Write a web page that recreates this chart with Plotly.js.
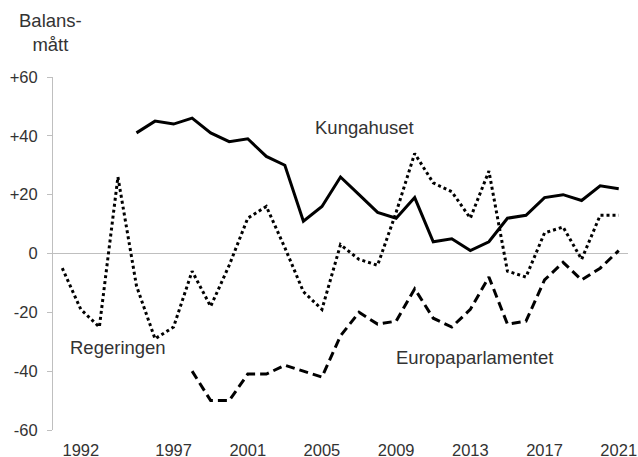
<!DOCTYPE html>
<html>
<head>
<meta charset="utf-8">
<script src="https://cdn.plot.ly/plotly-3.0.1.min.js"></script>
<style>html,body{margin:0;padding:0;background:#fff;}#chart{width:638px;height:457px;}</style>
</head>
<body>
<div id="chart"></div>
<script>
const years = [1991,1992,1993,1994,1995,1996,1997,1998,1999,2000,2001,2002,2003,2004,2005,2006,2007,2008,2009,2010,2011,2012,2013,2014,2015,2016,2017,2018,2019,2020,2021];
const regeringen = [-5,-19,-25,26,-11,-29,-25,-6,-18,-4,12,16,2,-13,-19,3,-2,-4,14,34,24,21,12,28,-6,-8,7,9,-2,13,13];
const kungahuset = [null,null,null,null,41,45,44,46,41,38,39,33,30,11,16,26,20,14,12,19,4,5,1,4,12,13,19,20,18,23,22];
const europaparlamentet = [null,null,null,null,null,null,null,-40,-50,-50,-41,-41,-38,-40,-42,-28,-20,-24,-23,-12,-22,-25,-19,-8,-24,-23,-9,-3,-9,-5,1];
const xTickVals = [1992,1997,2001,2005,2009,2013,2017,2021];
const yTickVals = [-60,-40,-20,0,20,40,60];
const yTickText = ['-60','-40','-20','0','+20','+40','+60'];
const seriesNames = ['Kungahuset','Regeringen','Europaparlamentet'];

const FONT = 'Liberation Sans, Arial, sans-serif';
const TXT = '#333333';

const traces = [
  {x: years, y: kungahuset, name: seriesNames[0], mode: 'lines', line: {color: '#000', width: 3}},
  {x: years, y: regeringen, name: seriesNames[1], mode: 'lines', line: {color: '#000', width: 3, dash: '3px,3px'}},
  {x: years, y: europaparlamentet, name: seriesNames[2], mode: 'lines', line: {color: '#000', width: 3, dash: '9px,5px'}}
];

const layout = {
  width: 638, height: 457,
  margin: {l: 53, r: 10, t: 77, b: 27},
  paper_bgcolor: '#fff', plot_bgcolor: '#fff',
  showlegend: false,
  font: {family: FONT, color: TXT, size: 16.5},
  xaxis: {
    range: [1990.5, 2021.5],
    tickvals: xTickVals,
    ticks: '', showgrid: false, zeroline: false, showline: false,
    tickfont: {family: FONT, size: 16.5, color: TXT},
    ticklabelstandoff: 8
  },
  yaxis: {
    range: [-60, 60],
    tickvals: yTickVals, ticktext: yTickText,
    ticks: 'outside', ticklen: 5, tickcolor: '#bfbfbf', tickwidth: 1,
    showline: true, linecolor: '#bfbfbf', linewidth: 1,
    showgrid: false,
    zeroline: true, zerolinecolor: '#bfbfbf', zerolinewidth: 1,
    tickfont: {family: FONT, size: 16.5, color: TXT},
    ticklabelstandoff: 6
  },
  annotations: [
    {text: 'Balans-<br>mått', xref: 'paper', yref: 'paper', x: -0.005, y: 1.125, xanchor: 'center', yanchor: 'middle', showarrow: false, font: {family: FONT, size: 18.5, color: TXT}},
    {text: seriesNames[0], x: 2007.3, y: 42.9, xref: 'x', yref: 'y', showarrow: false, font: {family: FONT, size: 18.5, color: TXT}},
    {text: seriesNames[1], x: 1994.0, y: -31.9, xref: 'x', yref: 'y', showarrow: false, font: {family: FONT, size: 18.5, color: TXT}},
    {text: seriesNames[2], x: 2013.25, y: -35.3, xref: 'x', yref: 'y', showarrow: false, font: {family: FONT, size: 18.5, color: TXT}}
  ]
};

Plotly.newPlot('chart', traces, layout, {displayModeBar: false, staticPlot: true});
</script>
</body>
</html>
